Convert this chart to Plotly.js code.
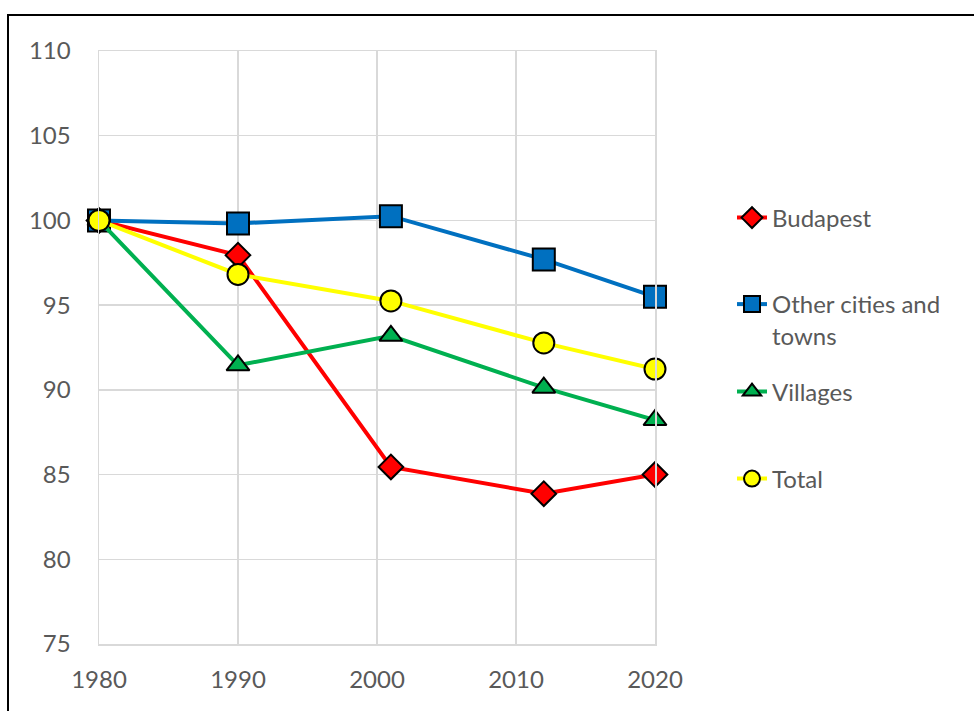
<!DOCTYPE html>
<html>
<head>
<meta charset="utf-8">
<script src="https://cdn.plot.ly/plotly-3.0.1.min.js"></script>
<style>html,body{margin:0;padding:0;background:#fff;}#chart{width:974px;height:711px;}</style>
</head>
<body>
<div id="chart"></div>
<script>
const years = [1980, 1990, 2001, 2012, 2020];
const budapest = [100, 97.95, 85.45, 83.87, 85.0];
const otherCities = [100, 99.82, 100.25, 97.7, 95.49];
const villages = [100, 91.45, 93.19, 90.13, 88.22];
const total = [100, 96.81, 95.25, 92.77, 91.23];
const seriesNames = ["Budapest", "Other cities and<br>towns", "Villages", "Total"];
const xTicks = [1980, 1990, 2000, 2010, 2020];
const yTicks = [75, 80, 85, 90, 95, 100, 105, 110];

const FONT = "Lato, 'Open Sans', sans-serif";
const GRAY = "#595959";
const W = 974, H = 711;
const plotL = 99, plotR = 655, plotT = 51, plotB = 644;
const px2x = p => (p - plotL) / (plotR - plotL);
const py2y = p => (plotB - p) / (plotB - plotT);

function tr(y, name, color, symbol, size, legendId) {
  return {
    x: years, y: y, name: name, type: "scatter", mode: "lines+markers",
    line: {color: color, width: 4},
    marker: {symbol: symbol, size: size, color: color, line: {color: "#000", width: 2}},
    legend: legendId, showlegend: true, cliponaxis: false
  };
}
const data = [
  tr(budapest, seriesNames[0], "#FF0000", "diamond", 19, "legend"),
  tr(otherCities, seriesNames[1], "#0070C0", "square", 22, "legend2"),
  tr(villages, seriesNames[2], "#00B050", "triangle-up", 20, "legend3"),
  tr(total, seriesNames[3], "#FFFF00", "circle", 21, "legend4")
];

const legX = px2x(732);
function leg(py) {
  return {x: legX, xanchor: "left", y: py2y(py), yanchor: "middle", valign: "top",
    font: {family: FONT, size: 24, color: GRAY}, bgcolor: "rgba(0,0,0,0)", borderwidth: 0};
}

const layout = {
  width: W, height: H,
  margin: {l: plotL, r: W - plotR, t: plotT, b: H - plotB, pad: 0},
  paper_bgcolor: "#fff", plot_bgcolor: "#fff",
  font: {family: FONT, size: 24, color: GRAY},
  showlegend: true,
  legend: leg(218),
  legend2: leg(320),
  legend3: leg(392),
  legend4: leg(479),
  xaxis: {
    range: [1980, 2020], tickvals: xTicks, ticktext: xTicks.map(String),
    showgrid: true, gridcolor: "#d9d9d9", gridwidth: 1.5, zeroline: false,
    showline: true, linecolor: "#d9d9d9", linewidth: 1.5, mirror: true,
    ticks: "", ticklabelstandoff: 14,
    tickfont: {family: FONT, size: 24, color: GRAY}
  },
  yaxis: {
    range: [75, 110], tickvals: yTicks, ticktext: yTicks.map(String),
    showgrid: true, gridcolor: "#d9d9d9", gridwidth: 1.5, zeroline: false,
    showline: true, linecolor: "#d9d9d9", linewidth: 1.5, mirror: true,
    ticks: "", ticklabelstandoff: 22,
    tickfont: {family: FONT, size: 24, color: GRAY}
  },
  shapes: [{
    type: "rect", xref: "paper", yref: "paper",
    x0: px2x(8), x1: px2x(1000), y0: py2y(740), y1: py2y(15),
    line: {color: "#000", width: 2}, fillcolor: "rgba(0,0,0,0)", layer: "above"
  }]
};

Plotly.newPlot("chart", data, layout, {displayModeBar: false, staticPlot: true});
</script>
</body>
</html>
